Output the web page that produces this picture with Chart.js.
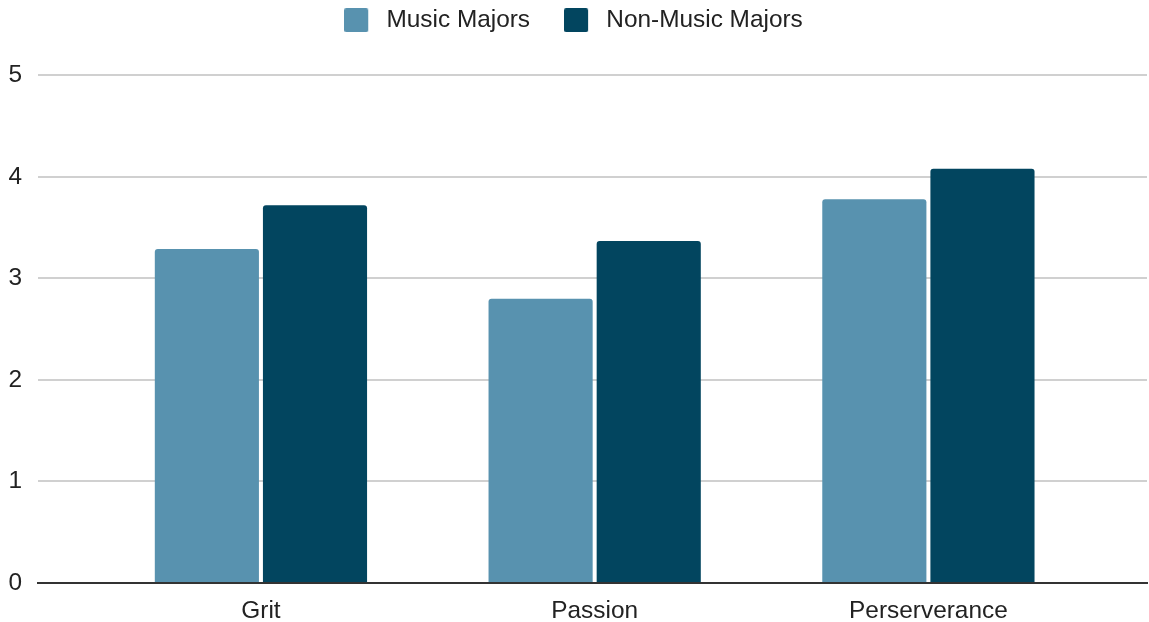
<!DOCTYPE html>
<html>
<head>
<meta charset="utf-8">
<script src="https://cdn.jsdelivr.net/npm/chart.js@4.4.1/dist/chart.umd.min.js"></script>
<style>
  html, body { margin: 0; padding: 0; background: #fff; }
  #wrap { width: 1149px; height: 622px; position: relative; }
</style>
</head>
<body>
<div id="wrap"><canvas id="c"></canvas></div>
<script>
const categories = ['Grit', 'Passion', 'Perserverance'];
const seriesNames = ['Music Majors', 'Non-Music Majors'];
const musicMajors = [3.29, 2.80, 3.78];
const nonMusicMajors = [3.72, 3.37, 4.08];
const yTicks = [0, 1, 2, 3, 4, 5];
const seriesColors = ['#5892AF', '#02455F'];

const FONT = "'Liberation Sans', Arial, sans-serif";
const FS = 24.4;
const toPoints = arr => arr.map((v, i) => ({ x: i, y: v }));

// legend swatch: 24x24 rounded box inside a 30px wide transparent image (for text gap)
function swatch(color) {
  const c = document.createElement('canvas');
  c.width = 30; c.height = 24;
  const g = c.getContext('2d');
  g.fillStyle = color;
  g.beginPath();
  if (g.roundRect) g.roundRect(0, 0, 24, 24, 2); else g.rect(0, 0, 24, 24);
  g.fill();
  return c;
}
const swatches = seriesColors.map(swatch);

const legendHeightPlugin = {
  id: 'legendHeight',
  beforeInit(chart) {
    const lg = chart.legend;
    if (!lg) return;
    const orig = lg.fit;
    lg.fit = function () { orig.call(this); this.height += 33; };
  }
};

const barCommon = {
  borderRadius: { topLeft: 3, topRight: 3, bottomLeft: 0, bottomRight: 0 },
  borderSkipped: 'start',
  categoryPercentage: 0.648,
  barPercentage: 0.963
};

new Chart(document.getElementById('c'), {
  type: 'bar',
  data: {
    datasets: [
      Object.assign({ label: seriesNames[0], data: toPoints(musicMajors), backgroundColor: seriesColors[0] }, barCommon),
      Object.assign({ label: seriesNames[1], data: toPoints(nonMusicMajors), backgroundColor: seriesColors[1] }, barCommon)
    ]
  },
  plugins: [legendHeightPlugin],
  options: {
    responsive: true,
    maintainAspectRatio: false,
    animation: false,
    layout: { padding: { left: 0, right: 2, top: -26, bottom: 0 } },
    plugins: {
      tooltip: { enabled: false },
      legend: {
        position: 'top',
        labels: {
          font: { family: FONT, size: FS },
          color: '#222',
          usePointStyle: true,
          pointStyleWidth: 30,
          boxHeight: 24,
          padding: 34,
          generateLabels(chart) {
            const items = Chart.defaults.plugins.legend.labels.generateLabels(chart);
            items.forEach((it, i) => { it.pointStyle = swatches[i]; });
            return items;
          }
        }
      }
    },
    scales: {
      x: {
        type: 'linear',
        min: -0.668,
        max: 2.655,
        offset: false,
        afterBuildTicks: scale => { scale.ticks = categories.map((_, i) => ({ value: i })); },
        afterFit: scale => { scale.height = 39; },
        ticks: {
          autoSkip: false,
          maxRotation: 0,
          font: { family: FONT, size: FS },
          color: '#222',
          padding: 14,
          callback: v => categories[v] ?? ''
        },
        grid: { display: false, drawTicks: false },
        border: { display: true, color: '#333', width: 2 }
      },
      y: {
        min: 0,
        max: 5,
        afterBuildTicks: scale => { scale.ticks = yTicks.map(v => ({ value: v })); },
        afterFit: scale => { scale.width = 38; },
        ticks: {
          font: { family: FONT, size: FS },
          color: '#222',
          padding: 16
        },
        grid: { color: '#d0d0d0', lineWidth: 2, drawTicks: false },
        border: { display: false }
      }
    }
  }
});
</script>
</body>
</html>
